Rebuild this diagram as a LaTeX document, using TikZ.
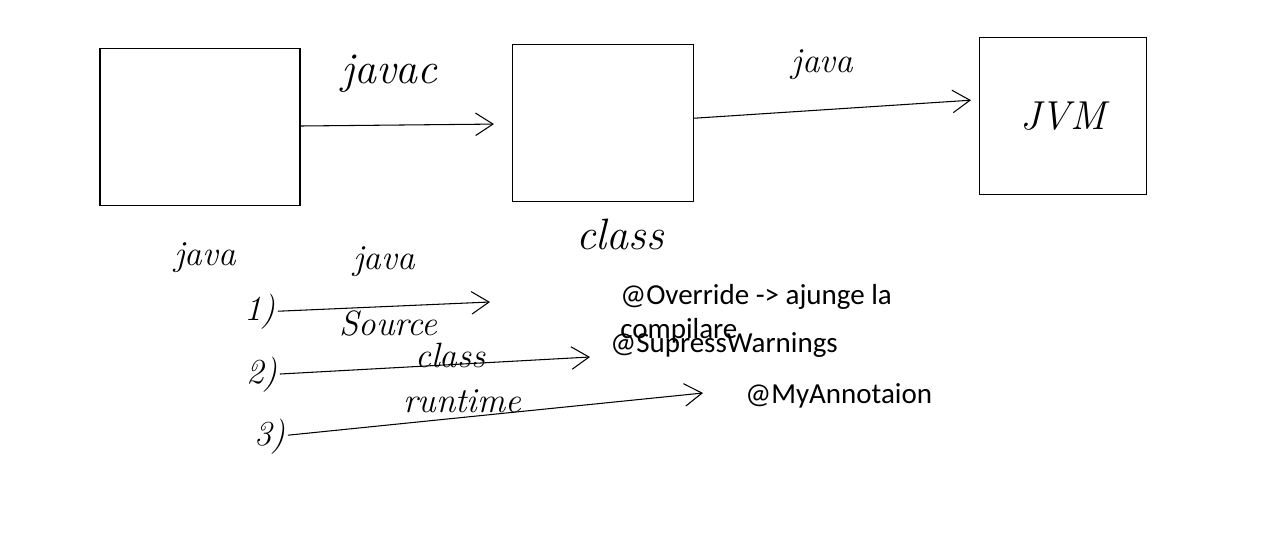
\documentclass[tikz,border=0pt]{standalone}
\usepackage{fontspec}
\newfontfamily\notefont{Carlito}
\usetikzlibrary{arrows.meta, positioning}

\begin{document}
\begin{tikzpicture}[
    x=0.02cm, y=-0.02cm,
    box/.style={rectangle, draw=black, line width=0.6pt, minimum height=3.14cm},
    hand/.style={font=\fontsize{20}{20}\selectfont\itshape, inner sep=1pt},
    bighand/.style={font=\fontsize{25}{25}\selectfont\itshape, inner sep=1pt},
    note/.style={font=\notefont\fontsize{16.5}{19.5}\selectfont, align=left, inner sep=0pt},
    arrow/.style={-{Straight Barb[length=3.5mm, width=4.5mm]}, line width=0.6pt, black}
]
\useasboundingbox (0,0) rectangle (1276,535);

% Nodes
\node[box, minimum width=4cm] (source) at (200,127) {};
\node[box, minimum width=3.62cm] (bytecode) at (603,123) {};
\node[box, minimum width=3.34cm] (jvm) at (1063,116) {\fontsize{23}{23}\selectfont\itshape JVM};

\node[hand] (javaname) at (205,258) {java};
\node[bighand] (classname) at (620,234) {class};

% Retention
\node[hand] (one) at (260,312) {1)};
\node[hand] (two) at (262,375) {2)};
\node[hand] (three) at (270,437) {3)};
\coordinate (oneEnd) at (490,302);
\coordinate (twoEnd) at (590,357);
\coordinate (threeEnd) at (703,393);

% Edges
\draw[arrow, shorten >=0.36cm] (source) -- node[bighand, above=0.6cm, pos=0.42] (javac) {javac} (bytecode);
\draw[arrow, shorten >=0.16cm] (bytecode.3) -- node[hand, above=0.55cm, pos=0.45] (run) {java} (jvm.169);

\draw[arrow] (one) -- node[hand, above=0.55cm, pos=0.5] (srcjava) {java}
    node[hand, below=0.05cm, pos=0.52] (srcname) {Source} (oneEnd);
\draw[arrow] (two) -- node[hand, above=-0.1cm, pos=0.55] (clsname) {class} (twoEnd);
\draw[arrow] (three) -- node[hand, above=0.05cm, pos=0.42] (rtname) {runtime} (threeEnd);

% Annotations
\node[note, anchor=north west] (override) at (620,284) {@Override -> ajunge la\\compilare};
\node[note, anchor=base west] (supress) at (610,352) {@SupressWarnings};
\node[note, anchor=base west] (mine) at (745,403) {@MyAnnotaion};

\end{tikzpicture}
\end{document}
